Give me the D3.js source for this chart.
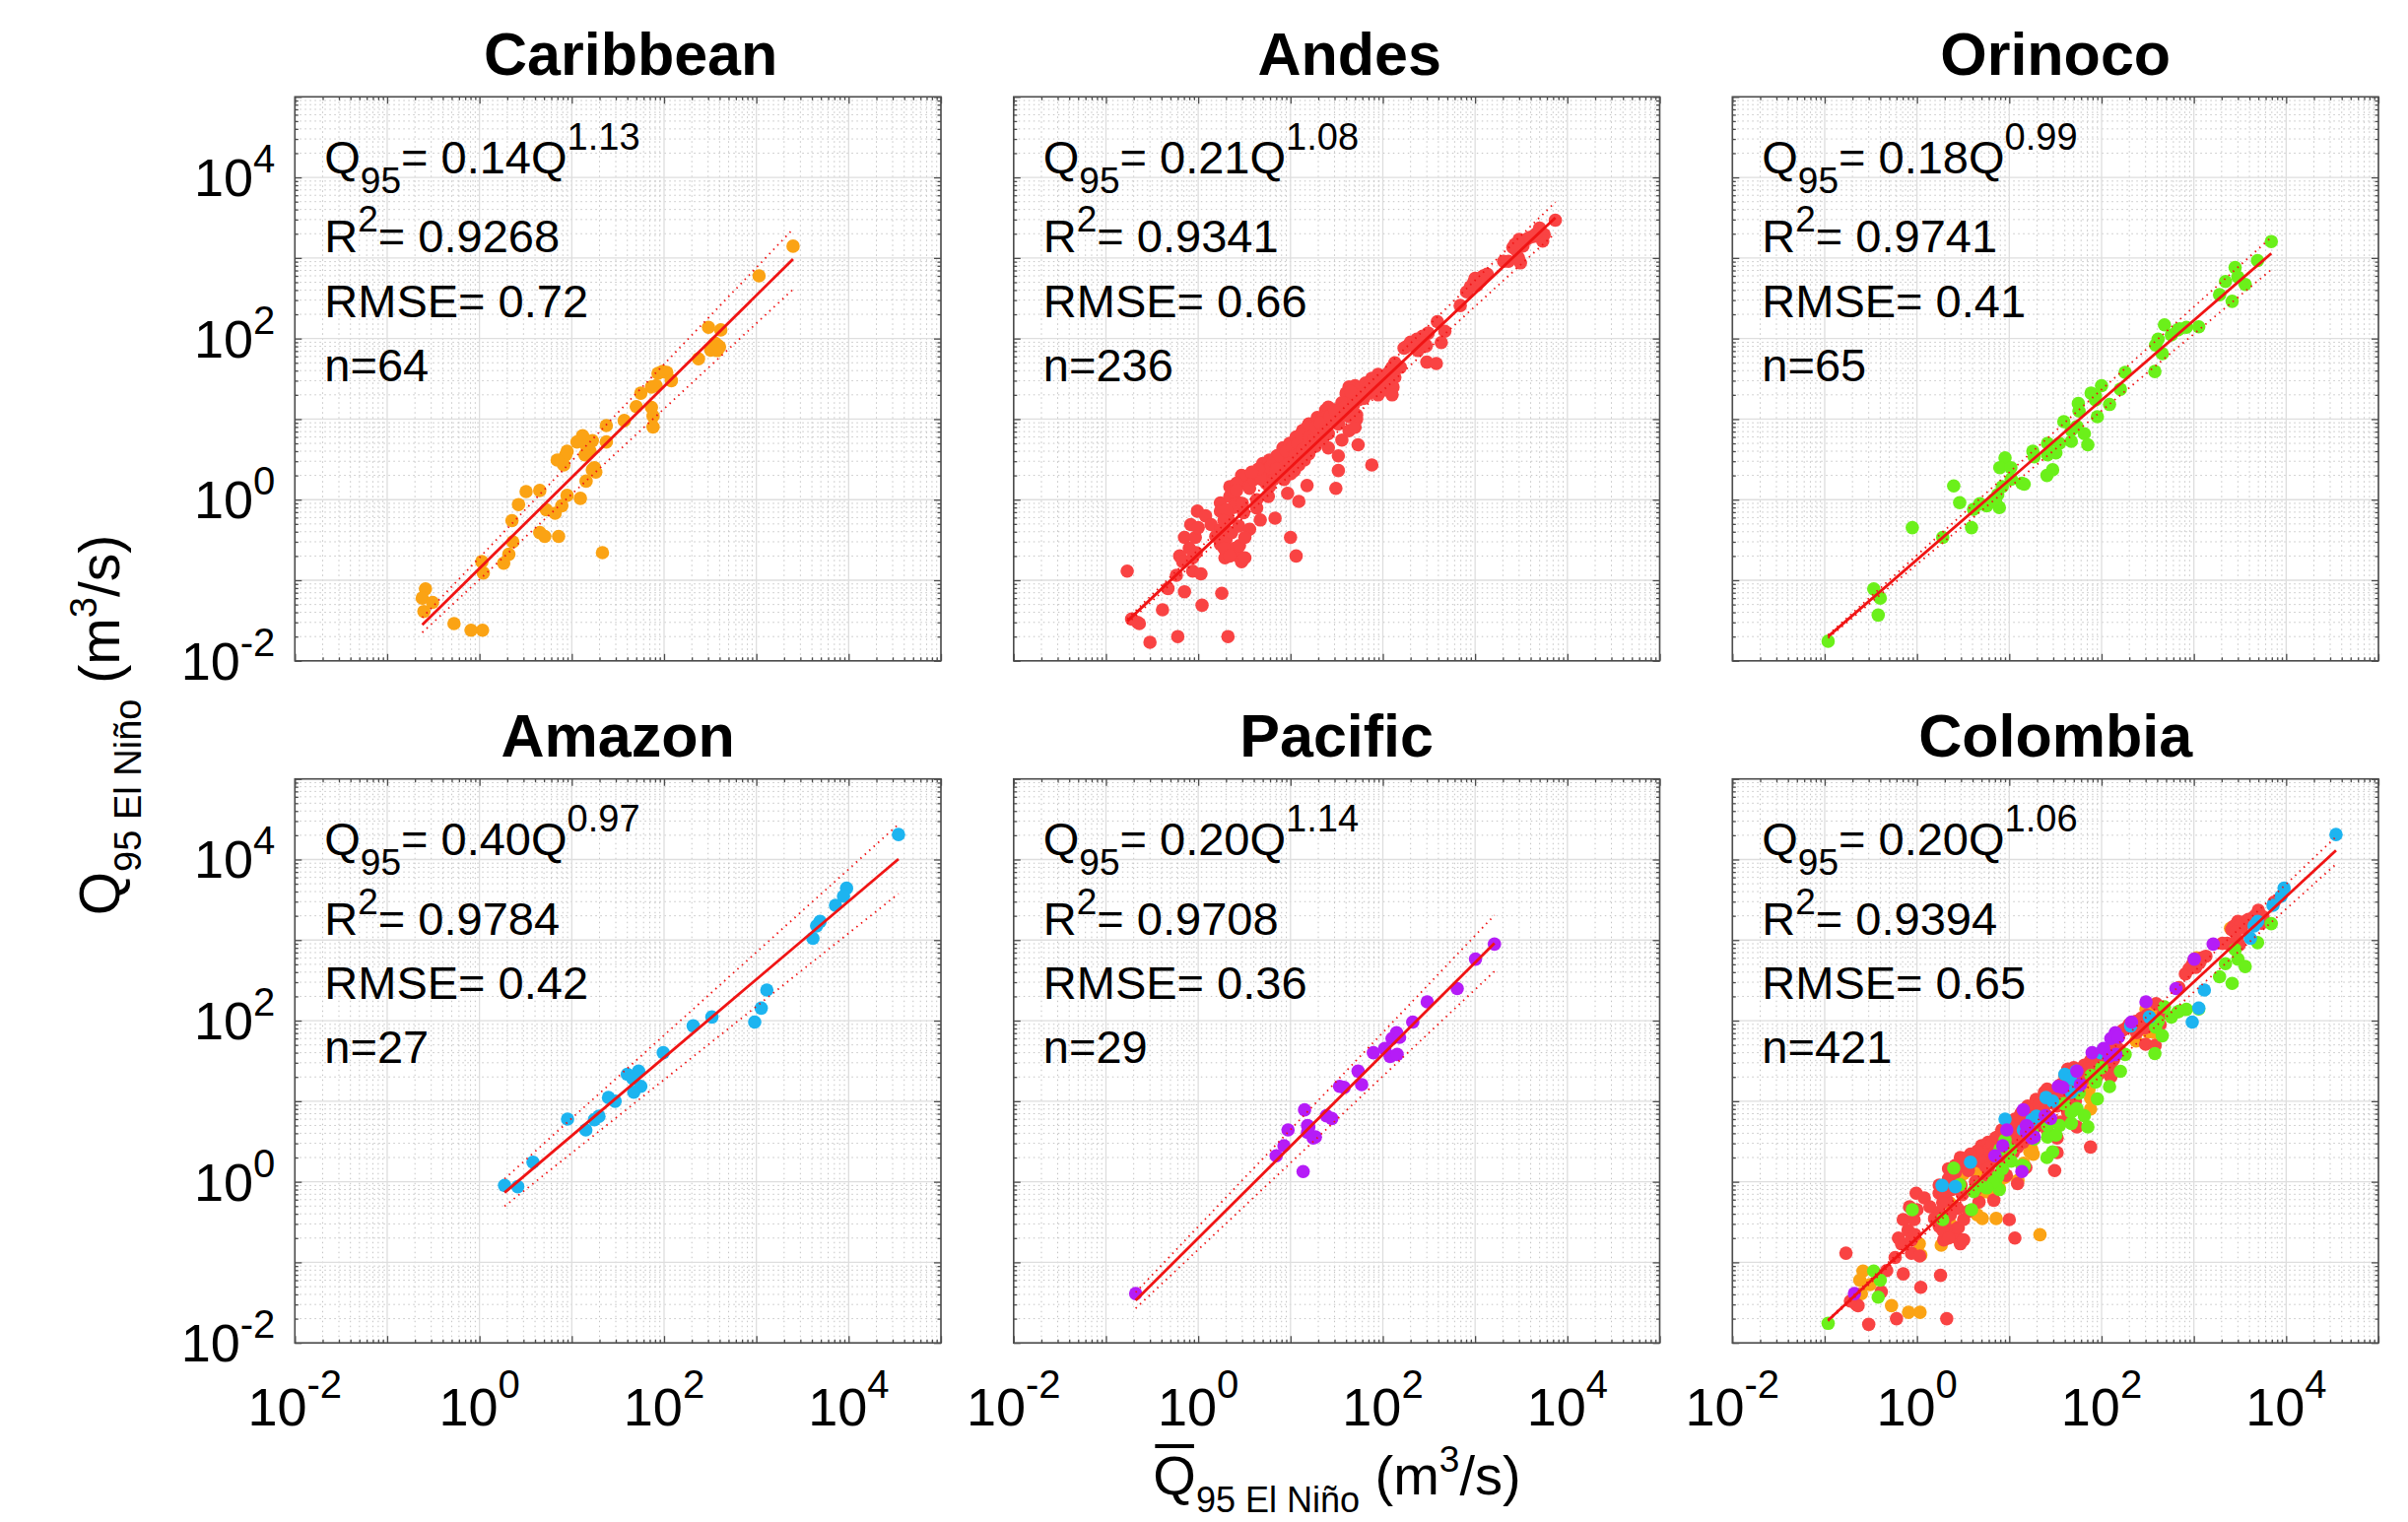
<!DOCTYPE html>
<html>
<head>
<meta charset="utf-8">
<script src="https://cdn.jsdelivr.net/npm/d3@7"></script>
<style>
  html, body { margin: 0; padding: 0; background: #fff; }
  svg { display: block; font-family: "Liberation Sans", Arial, Helvetica, sans-serif; }
</style>
</head>
<body>
<div id="chart"></div>
<script>
// ---- data: [mean Q95, Q95 El Nino] in m3/s ----
const regionNames = ["Caribbean", "Andes", "Orinoco", "Amazon", "Pacific", "Colombia"];
const regionColors = ["#FBA314", "#F94343", "#6BF01A", "#1DB4F0", "#B51CF7"];

// fit Q95 = a * Q^b and the coefficient bounds (dotted lines)
const fitA = [0.14, 0.21, 0.18, 0.40, 0.20, 0.20];
const fitB = [1.13, 1.08, 0.99, 0.97, 1.14, 1.06];
const fitALo = [0.102, 0.184, 0.158, 0.281, 0.144, 0.183];
const fitAHi = [0.191, 0.239, 0.205, 0.570, 0.278, 0.218];
const fitBLo = [1.06, 1.045, 0.9525, 0.909, 1.076, 1.031];
const fitBHi = [1.20, 1.115, 1.0275, 1.031, 1.204, 1.089];
const fitR2 = ["0.9268", "0.9341", "0.9741", "0.9784", "0.9708", "0.9394"];
const fitRMSE = ["0.72", "0.66", "0.41", "0.42", "0.36", "0.65"];
const fitN = ["64", "236", "65", "27", "29", "421"];

const axisTickValues = [1e-2, 1e0, 1e2, 1e4];
const axisTickExponents = ["-2", "0", "2", "4"];

const caribbean = [
  [2500,1400],[1070,600],[303,138],[412,128],[357,88],[399,79],[321,72],[378,71],[236,56],
  [96,39],[107,38],[120,30],[73,25],[82,26],[56,21],[50,14.3],[73,14],[76,10.9],[76,8.0],
  [37,9.6],[23.7,8.3],[13.1,6.2],[11.4,5.2],[16.7,5.4],[23.7,5.2],[14.6,4.5],[15.8,4.0],
  [13.9,3.6],[8.9,4.0],[7.6,3.1],[8.2,2.7],[17.6,2.5],[18.2,2.2],[14.3,1.7],[3.2,1.26],
  [4.5,1.3],[8.9,1.13],[12.4,1.04],[2.65,0.87],[7.8,0.84],[5.3,0.75],[6.6,0.68],[2.25,0.55],
  [4.5,0.39],[5.1,0.35],[7.2,0.35],[2.3,0.30],[2.08,0.21],[21.5,0.22],[1.83,0.163],[1.06,0.17],
  [1.1,0.123],[0.26,0.078],[0.24,0.060],[0.31,0.053],[0.25,0.041],[0.53,0.029],[0.81,0.024],
  [1.08,0.024],[86,37],[8.6,3.6],[378,83],[6.95,3.1],[16.7,2.35]
];

const andes = [
  [0.17,0.13],[0.22,0.030],[0.23,0.029],[0.19,0.033],[0.30,0.017],[0.60,0.020],[2.1,0.020],
  [0.41,0.043],[0.47,0.079],[0.58,0.115],[0.71,0.072],[1.1,0.049],[1.8,0.069],[0.63,0.20],
  [0.68,0.17],[0.87,0.19],[0.87,0.13],[1.07,0.12],[0.71,0.34],[0.93,0.34],[0.83,0.49],
  [0.98,0.72],[1.2,0.63],[1.38,0.49],[1.74,0.91],[2.2,1.45],[2.2,1.1],[2.6,0.95],[2.1,0.59],
  [1.74,0.42],[1.74,0.28],[2.0,0.32],[1.95,0.19],[2.5,0.25],[2.75,0.20],[2.95,0.17],[3.2,0.19],
  [2.3,0.39],[2.75,0.47],[3.6,0.43],[3.1,0.69],[3.4,1.95],[3.2,1.58],[3.6,1.38],[4.3,1.0],
  [4.3,0.79],[4.7,0.56],[4.0,1.78],[5.0,2.8],[5.5,2.1],[5.9,3.1],[7.1,3.5],[8.3,4.4],[7.6,2.6],
  [6.5,1.78],[5.75,1.1],[6.8,0.59],[9.3,1.2],[12.3,0.95],[10,0.34],[11.5,0.20],[10,2.1],
  [11.5,3.1],[9.8,5.0],[11.5,6.0],[13.5,7.2],[15.8,8.7],[17.4,6.6],[12.9,3.9],[15.1,1.5],
  [19.5,10.5],[24,12.9],[22,5.5],[25.7,4.4],[36,5.5],[33,3.5],[33,2.3],[31,1.38],[43,7.2],
  [52,10],[50,7.9],[54,4.8],[76,2.7],[39,14.8],[5.0,2.2],[5.75,2.45],[7.1,2.8],[8.3,3.1],
  [9.8,3.2],[4.9,1.78],[5.5,1.58],[7.9,2.1],[8.9,2.3],[4.3,2.1],[4.7,1.95],[5.9,1.45],
  [7.1,1.95],[8.5,1.78],[11,2.3],[12.3,2.7],[14.1,3.1],[15.8,3.7],[18.6,4.6],[20,6.0],
  [17.4,5.0],[14.8,5.5],[15.1,7.9],[23,7.9],[25.7,6.6],[28,9.6],[30,11.7],[33,8.7],[22,10],
  [36,11.7],[25.7,14.1],[2.95,2.0],[2.6,1.6],[2.4,1.26],[1.74,0.72],[1.55,0.35],[1.9,0.25],
  [2.2,0.20],[2.8,0.27],[3.2,0.34],[7400,2950],[5000,2340],[5600,1950],[5400,1620],
  [4300,1860],[3600,1700],[3000,1700],[2700,1480],[3300,1410],[2570,1350],[2300,910],
  [2040,910],[2950,1000],[3100,870],[1230,600],[1100,550],[980,510],[890,440],[810,380],
  [1050,460],[1350,630],[690,257],[390,162],[470,123],[430,89],[310,117],[270,107],[234,98],
  [214,85],[186,81],[170,76],[295,81],[240,71],[300,51],[380,49],[135,50],[126,44],[155,44],
  [135,33],[129,25],[126,20],[89,36],[76,32],[93,27.5],[83,23],[71,21],[60,23],[50,26],
  [43,25],[40,21],[47,19],[36,16],[55,17.4],[89,20],[102,23],[115,30],[52,11.2],[43,10.7],
  [29,10.7],[3200,1550],[3900,1800],[4600,2000],[2800,1250],[950,480],[1150,520],[1000,560],
  [200,90],[260,95],[280,88],[225,80],[65,28],[80,30],[95,33],[110,36],[70,25],[58,20],
  [45,22],[100,26],[120,40],[62,18],[38,14],[48,15],[6.0,2.5],[6.5,3.0],[7.5,3.6],[9,4],
  [10.5,4.5],[12,5],[13,6.5],[16,6],[19,8],[21,9],[27,11],[30,13],[11,3.5],[9.5,2.8],[8,2.2],
  [7,2.4],[13.5,4.2],[15,4.5],[18,5.5],[24,7],[4.5,2.4],[3.8,2.2],[2.4,0.8],[2.0,0.75],
  [3.0,0.9],[2.6,1.3],[1.9,0.55],[0.8,0.25],[0.95,0.22],[1.0,0.45]
];

const orinoco = [
  [6900,1600],[4900,930],[2800,760],[2200,510],[3000,580],[3600,470],[1900,350],[2600,290],
  [480,148],[570,111],[670,128],[830,138],[1130,140],[385,83],[455,65],[180,38],[378,39],
  [100,26],[160,23.5],[77,21],[86,17.3],[122,15.2],[56,15.6],[90,10.7],[39,9.3],[54,8.1],
  [65,6.6],[47,5.3],[71,4.8],[26,5.0],[35,5.0],[18,4.0],[26,3.6],[32,3.8],[9.0,3.3],[7.9,2.5],
  [10.4,2.5],[29.5,2.35],[25.6,2.0],[10.5,1.8],[14.5,1.56],[8.4,1.45],[2.5,1.48],[7.5,1.16],
  [7.1,0.94],[7.8,0.80],[6.7,0.99],[4.8,0.89],[2.9,0.92],[4.1,0.76],[3.9,0.45],[0.89,0.45],
  [1.9,0.34],[0.34,0.078],[0.40,0.060],[0.38,0.037],[0.109,0.0175],[57,12.6],[47,7.3],
  [86,19.3],[410,98],[700,132],[5.7,0.84],[13.7,1.6],[18.6,3.4]
];

const amazon = [
  [34700,20400],[9500,4400],[8800,3500],[7200,2700],[4900,1700],[4500,1500],[4100,1050],
  [1300,240],[1130,143],[960,96],[330,111],[207,86],[98,40],[40,21.6],[53,23.6],[46,19],
  [56,15.3],[47,12.9],[25,11.1],[29.5,10],[19.7,6.5],[17.6,5.9],[9.0,6.0],[14.2,4.4],
  [3.8,1.75],[1.87,0.90],[2.6,0.87]
];

const pacific = [
  [1620,890],[1010,580],[640,250],[303,171],[211,96],[141,71],[126,60],[152,62],[105,45],
  [120,36],[143,38],[79,40],[54,23.6],[59,16.1],[34,15.3],[38,14.8],[14.2,7.8],[24.5,6.6],
  [28,6.1],[15.3,5.0],[9.4,4.4],[15.3,4.1],[17.6,3.5],[18.6,3.6],[8.5,2.8],[7.0,2.1],
  [13.7,1.34],[0.21,0.041],[15.8,4.8]
];

// ---- layout ----
const W = 2444, H = 1545;
const panelW = 655.7, panelH = 572.5;
const colX = [299.3, 1028.8, 1758.3];
const rowY = [98.3, 790.7];
const titleShift = [13, 13, 0, 0, 0, 0];
const axisColor = "#4d4d4d";
const fitColor = "#F01414";

const svg = d3.select("#chart").append("svg")
  .attr("width", W)
  .attr("height", H);

const x = d3.scaleLog().domain([1e-2, 1e5]).range([0, panelW]);
const y = d3.scaleLog().domain([1e-2, 1e5]).range([panelH, 0]);

// 1..9 per decade from the log scale, split into decades and the rest
const allTicks = x.ticks();
const isDecade = v => Math.abs(Math.log10(v) - Math.round(Math.log10(v))) < 1e-9;
const majorTicks = allTicks.filter(isDecade);
const minorTicks = allTicks.filter(v => !isDecade(v));

const regionSeries = [caribbean, andes, orinoco, amazon, pacific];
const panels = regionNames.map((name, i) => ({
  name,
  i,
  series: i < 5
    ? [{ pts: regionSeries[i], color: regionColors[i] }]
    : regionSeries.map((pts, j) => ({ pts, color: regionColors[j] }))
}));

panels.forEach((p) => {
  const col = p.i % 3, row = Math.floor(p.i / 3);
  const g = svg.append("g").attr("transform", `translate(${colX[col]},${rowY[row]})`);

  //title
  g.append("text")
    .attr("x", panelW / 2 + titleShift[p.i])
    .attr("y", -22.8)
    .attr("text-anchor", "middle")
    .attr("font-size", 61)
    .attr("font-weight", "bold")
    .text(p.name);

  //minor grid (dotted)
  const grid = g.append("g");
  grid.selectAll(".mx").data(minorTicks).join("line")
    .attr("x1", d => x(d)).attr("x2", d => x(d))
    .attr("y1", 0).attr("y2", panelH);
  grid.selectAll(".my").data(minorTicks).join("line")
    .attr("class", "my")
    .attr("x1", 0).attr("x2", panelW)
    .attr("y1", d => y(d)).attr("y2", d => y(d));
  grid.selectAll("line")
    .attr("stroke", "#c4c4c4")
    .attr("stroke-width", 1)
    .attr("stroke-dasharray", "1.5,3.5");

  //major grid (solid)
  const mgrid = g.append("g");
  mgrid.selectAll(".gx").data(majorTicks).join("line")
    .attr("x1", d => x(d)).attr("x2", d => x(d))
    .attr("y1", 0).attr("y2", panelH);
  mgrid.selectAll(".gy").data(majorTicks).join("line")
    .attr("class", "gy")
    .attr("x1", 0).attr("x2", panelW)
    .attr("y1", d => y(d)).attr("y2", d => y(d));
  mgrid.selectAll("line")
    .attr("stroke", "#dedede")
    .attr("stroke-width", 1.3);

  //points
  p.series.forEach(s => {
    g.append("g")
      .selectAll("circle")
      .data(s.pts)
      .join("circle")
        .attr("cx", d => x(d[0]))
        .attr("cy", d => y(d[1]))
        .attr("r", 6.8)
        .attr("fill", s.color);
  });

  //fit line and coefficient bounds over the range of the data
  const allPts = p.series.flatMap(s => s.pts);
  const xr = d3.extent(allPts, d => d[0]);
  const line = d3.line().x(d => x(d[0])).y(d => y(d[1]));
  const curve = (a, b) => xr.map(v => [v, a * Math.pow(v, b)]);

  [[fitALo[p.i], fitBLo[p.i]], [fitAHi[p.i], fitBHi[p.i]]].forEach(([a, b]) => {
    g.append("path")
      .attr("d", line(curve(a, b)))
      .attr("fill", "none")
      .attr("stroke", fitColor)
      .attr("stroke-width", 1.8)
      .attr("stroke-dasharray", "1.5,4.5");
  });
  g.append("path")
    .attr("d", line(curve(fitA[p.i], fitB[p.i])))
    .attr("fill", "none")
    .attr("stroke", fitColor)
    .attr("stroke-width", 2.8);

  //axes box and inward ticks on all four sides
  const tickAxis = (axis, t, values, size) => {
    const a = g.append("g")
      .attr("transform", t)
      .call(axis.tickValues(values).tickSize(size).tickSizeOuter(0).tickFormat(""));
    a.select(".domain").remove();
    a.selectAll("text").remove();
    a.selectAll("line").attr("stroke", axisColor).attr("stroke-width", 1.3);
  };
  [[majorTicks, -7], [minorTicks, -3.5]].forEach(([vals, size]) => {
    tickAxis(d3.axisBottom(x), `translate(0,${panelH})`, vals, size);
    tickAxis(d3.axisTop(x), "translate(0,0)", vals, size);
    tickAxis(d3.axisLeft(y), "translate(0,0)", vals, size);
    tickAxis(d3.axisRight(y), `translate(${panelW},0)`, vals, size);
  });
  g.append("rect")
    .attr("width", panelW)
    .attr("height", panelH)
    .attr("fill", "none")
    .attr("stroke", axisColor)
    .attr("stroke-width", 1.6);

  //tick labels only on the outer panels
  if (col === 0) {
    axisTickValues.forEach((v, k) => {
      const t = g.append("text")
        .attr("x", -20)
        .attr("y", y(v) + 19)
        .attr("text-anchor", "end")
        .attr("font-size", 54);
      t.append("tspan").text("10");
      t.append("tspan").attr("font-size", 40).attr("dy", -24).text(axisTickExponents[k]);
    });
  }
  if (row === 1) {
    axisTickValues.forEach((v, k) => {
      const t = g.append("text")
        .attr("x", x(v))
        .attr("y", panelH + 84)
        .attr("text-anchor", "middle")
        .attr("font-size", 54);
      t.append("tspan").text("10");
      t.append("tspan").attr("font-size", 40).attr("dy", -28).text(axisTickExponents[k]);
    });
  }

  //fit annotation
  const ann = g.append("g").attr("font-size", 47);
  const eq = ann.append("text").attr("x", 30).attr("y", 77.6);
  eq.append("tspan").text("Q");
  eq.append("tspan").attr("font-size", 37).attr("dy", 20).text("95");
  eq.append("tspan").attr("dy", -20).text(`= ${fitA[p.i].toFixed(2)}Q`);
  eq.append("tspan").attr("font-size", 38).attr("dy", -24).text(fitB[p.i].toFixed(2));

  const r2 = ann.append("text").attr("x", 30).attr("y", 158.1);
  r2.append("tspan").text("R");
  r2.append("tspan").attr("font-size", 37).attr("dy", -21).text("2");
  r2.append("tspan").attr("dy", 21).text(`= ${fitR2[p.i]}`);

  ann.append("text").attr("x", 30).attr("y", 223.3).text(`RMSE= ${fitRMSE[p.i]}`);
  ann.append("text").attr("x", 30).attr("y", 288.4).text(`n=${fitN[p.i]}`);
});

//y axis label
const yl = svg.append("text")
  .attr("transform", "translate(121,736) rotate(-90)")
  .attr("text-anchor", "middle")
  .attr("font-size", 57);
yl.append("tspan").text("Q");
yl.append("tspan").attr("font-size", 38).attr("dy", 22).text("95 El Niño");
yl.append("tspan").attr("dy", -22).text(" (m");
yl.append("tspan").attr("font-size", 38).attr("dy", -23).text("3");
yl.append("tspan").attr("dy", 23).text("/s)");

//x axis label, Q with an overbar
const xl = svg.append("text")
  .attr("x", 1357)
  .attr("y", 1517)
  .attr("text-anchor", "middle")
  .attr("font-size", 56);
xl.append("tspan").text("Q");
xl.append("tspan").attr("font-size", 36).attr("dy", 18).text("95 El Niño");
xl.append("tspan").attr("dy", -18).text(" (m");
xl.append("tspan").attr("font-size", 37).attr("dy", -23).text("3");
xl.append("tspan").attr("dy", 23).text("/s)");
const qBox = xl.node().getExtentOfChar(0);
svg.append("line")
  .attr("x1", qBox.x + 2)
  .attr("x2", qBox.x + qBox.width - 2)
  .attr("y1", qBox.y + 2)
  .attr("y2", qBox.y + 2)
  .attr("stroke", "#000")
  .attr("stroke-width", 3.8);
</script>
</body>
</html>
